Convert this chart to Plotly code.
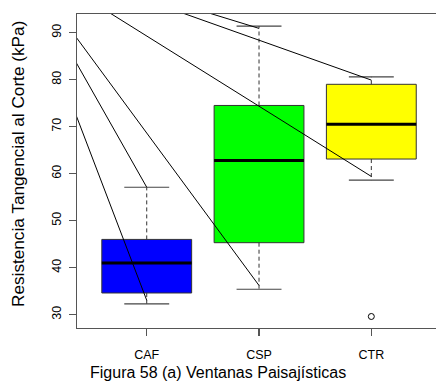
import plotly.graph_objects as go

# ---- data ----
categories = ["CAF", "CSP", "CTR"]
positions = [1, 2, 3]
q1 = [34.6, 45.3, 63.1]
median = [41.0, 62.8, 70.5]
q3 = [46.0, 74.5, 79.0]
lower_whisker = [32.3, 35.4, 58.6]
upper_whisker = [57.1, 91.4, 80.6]
outlier_pos = [3]
outlier_val = [29.6]
box_colors = ["#0000FF", "#00FF00", "#FFFF00"]
y_ticks = [30, 40, 50, 60, 70, 80, 90]

# stray guide lines: common origin (outside plot) to points near whisker ends
line_origin_x = -0.18
line_origin_y = 106.9
line_target_x = [1, 1, 2, 2, 3, 3]
line_target_y = [33.05, 57.1, 36.2, 90.9, 59.4, 79.9]

BOX_W = 0.8
STAPLE_W = 0.4
FONT = "Liberation Sans, Arial, Helvetica, sans-serif"
EDGE = "#333333"

fig = go.Figure()

for i, p in enumerate(positions):
    xl, xr = p - BOX_W / 2, p + BOX_W / 2
    # box body
    fig.add_trace(go.Scatter(
        x=[xl, xr, xr, xl, xl], y=[q1[i], q1[i], q3[i], q3[i], q1[i]],
        mode="lines", fill="toself", fillcolor=box_colors[i],
        line=dict(color=EDGE, width=1), hoverinfo="skip", showlegend=False))
    # median
    fig.add_trace(go.Scatter(
        x=[xl, xr], y=[median[i], median[i]], mode="lines",
        line=dict(color="black", width=3), hoverinfo="skip", showlegend=False))
    # whiskers (dashed)
    fig.add_trace(go.Scatter(
        x=[p, p, None, p, p], y=[q3[i], upper_whisker[i], None, q1[i], lower_whisker[i]],
        mode="lines", line=dict(color=EDGE, width=1, dash="4px,3px"),
        hoverinfo="skip", showlegend=False))
    # staples
    sl, sr = p - STAPLE_W / 2, p + STAPLE_W / 2
    fig.add_trace(go.Scatter(
        x=[sl, sr, None, sl, sr],
        y=[upper_whisker[i], upper_whisker[i], None, lower_whisker[i], lower_whisker[i]],
        mode="lines", line=dict(color="#444444", width=1.2),
        hoverinfo="skip", showlegend=False))

# outliers
fig.add_trace(go.Scatter(
    x=outlier_pos, y=outlier_val, mode="markers",
    marker=dict(symbol="circle-open", size=6, color="black", line=dict(width=1)),
    hoverinfo="skip", showlegend=False, cliponaxis=False))

# guide lines drawn on top
for tx, ty in zip(line_target_x, line_target_y):
    fig.add_trace(go.Scatter(
        x=[line_origin_x, tx], y=[line_origin_y, ty], mode="lines",
        line=dict(color="black", width=1), hoverinfo="skip", showlegend=False))

fig.update_layout(
    width=436, height=385,
    margin=dict(l=77, r=0, t=14, b=57),
    paper_bgcolor="white", plot_bgcolor="white",
    font=dict(family=FONT, color="black", size=12.5),
    hovermode=False,
    xaxis=dict(
        range=[0.379, 3.576], tickvals=positions, ticktext=categories,
        showline=True, mirror=True, linecolor="#555555", linewidth=1.2,
        ticks="outside", ticklen=7, tickcolor="#555555", tickwidth=1.2,
        showgrid=False, zeroline=False, ticklabelstandoff=8,
        tickfont=dict(size=12.5, family=FONT)),
    yaxis=dict(
        range=[27.15, 93.96], tickvals=y_ticks,
        showline=True, linecolor="#555555", linewidth=1.2,
        ticks="outside", ticklen=7, tickcolor="#555555", tickwidth=1.2,
        showgrid=False, zeroline=False, tickangle=-90, ticklabelstandoff=3,
        tickfont=dict(size=12.5, family=FONT)),
    annotations=[
        dict(text="Figura 58 (a) Ventanas Paisajísticas", xref="paper", yref="paper",
             x=(218 - 77) / 359, y=(328 - 372) / 314, xanchor="center", yanchor="middle",
             showarrow=False, font=dict(size=16, family=FONT, color="black")),
        dict(text="Resistencia Tangencial al Corte (kPa)", xref="paper", yref="paper",
             x=(18 - 77) / 359, y=(328 - 164) / 314, xanchor="center", yanchor="middle",
             textangle=-90, showarrow=False, font=dict(size=17.2, family=FONT, color="black")),
    ],
)

fig.write_html(
    "out.html",
    config={"displayModeBar": False, "staticPlot": True},
    post_script="document.body.style.margin='0';document.body.style.padding='0';",
)
